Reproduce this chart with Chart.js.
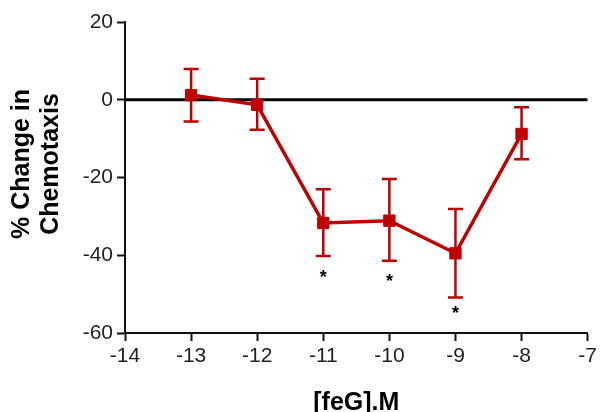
<!DOCTYPE html>
<html>
<head>
<meta charset="utf-8">
<script src="https://cdn.jsdelivr.net/npm/chart.js@4"></script>
<style>
  html, body { margin: 0; padding: 0; background: #fff; }
  #wrap { width: 600px; height: 412px; position: relative; }
</style>
</head>
<body>
<div id="wrap"><canvas id="chart"></canvas></div>
<script>
// log concentration of feG (M)
const logConc = [-13, -12, -11, -10, -9, -8];
const meanChange = [1.2, -1.3, -31.7, -31.1, -39.5, -8.8];
const errTop = [7.9, 5.4, -23.0, -20.4, -28.1, -1.9];
const errBottom = [-5.6, -7.7, -40.2, -41.4, -50.9, -15.3];
// significance markers
const starX = [-11, -10, -9];
const starY = [-44.8, -45.8, -54.0];
const xTicks = [-14, -13, -12, -11, -10, -9, -8, -7];
const yTicks = [-60, -40, -20, 0, 20];

const RED = '#c00000';

const errorBars = {
    id: 'errorBars',
    afterDatasetsDraw(chart) {
        const { ctx, scales: { x, y } } = chart;
        ctx.save();
        ctx.strokeStyle = RED;
        ctx.lineWidth = 2.5;
        logConc.forEach((v, i) => {
            const px = x.getPixelForValue(v);
            const t = y.getPixelForValue(errTop[i]);
            const b = y.getPixelForValue(errBottom[i]);
            ctx.beginPath();
            ctx.moveTo(px, t); ctx.lineTo(px, b);
            ctx.moveTo(px - 7.5, t); ctx.lineTo(px + 7.5, t);
            ctx.moveTo(px - 7.5, b); ctx.lineTo(px + 7.5, b);
            ctx.stroke();
        });
        ctx.fillStyle = '#000';
        ctx.font = 'bold 18px "Liberation Sans", Arial, sans-serif';
        ctx.textAlign = 'center';
        ctx.textBaseline = 'middle';
        starX.forEach((v, i) => ctx.fillText('*', x.getPixelForValue(v), y.getPixelForValue(starY[i]) + 4));

        // axis titles
        const area = chart.chartArea;
        ctx.font = 'bold 25px "Liberation Sans", Arial, sans-serif';
        ctx.fillText('[feG].M', (area.left + area.right) / 2, 403);
        ctx.translate(36, 164);
        ctx.rotate(-Math.PI / 2);
        ctx.fillText('% Change in', 0, -14);
        ctx.fillText('Chemotaxis', 0, 15);
        ctx.restore();
    }
};

new Chart(document.getElementById('chart'), {
    type: 'scatter',
    data: {
        datasets: [{
            data: logConc.map((v, i) => ({ x: v, y: meanChange[i] })),
            showLine: true,
            borderColor: RED,
            backgroundColor: RED,
            borderWidth: 3.5,
            pointStyle: 'rect',
            pointRadius: 8,
            pointBorderWidth: 1,
            order: 1
        }, {
            data: [{ x: xTicks[0], y: 0 }, { x: xTicks[xTicks.length - 1], y: 0 }],
            showLine: true,
            borderColor: '#000',
            borderWidth: 3,
            pointRadius: 0,
            order: 2
        }]
    },
    options: {
        responsive: true,
        maintainAspectRatio: false,
        animation: false,
        events: [],
        layout: { padding: { top: 22, right: 10, left: 0, bottom: 0 } },
        plugins: { legend: { display: false }, tooltip: { enabled: false } },
        scales: {
            x: {
                type: 'linear',
                min: -14, max: -7,
                afterFit: s => { s.height = 79; },
                afterBuildTicks: s => { s.ticks = xTicks.map(v => ({ value: v })); },
                border: { color: '#111', width: 2 },
                grid: { drawOnChartArea: false, tickLength: 8, tickColor: '#111', tickWidth: 2 },
                ticks: { color: '#222', padding: 3, font: { family: '"Liberation Sans", Arial', size: 21 } }
            },
            y: {
                min: -60, max: 20,
                afterFit: s => { s.width = 125; },
                afterBuildTicks: s => { s.ticks = yTicks.map(v => ({ value: v })); },
                border: { color: '#111', width: 2 },
                grid: { drawOnChartArea: false, tickLength: 8, tickColor: '#111', tickWidth: 2 },
                ticks: { color: '#222', padding: 4, font: { family: '"Liberation Sans", Arial', size: 21 } }
            }
        }
    },
    plugins: [errorBars]
});
</script>
</body>
</html>
